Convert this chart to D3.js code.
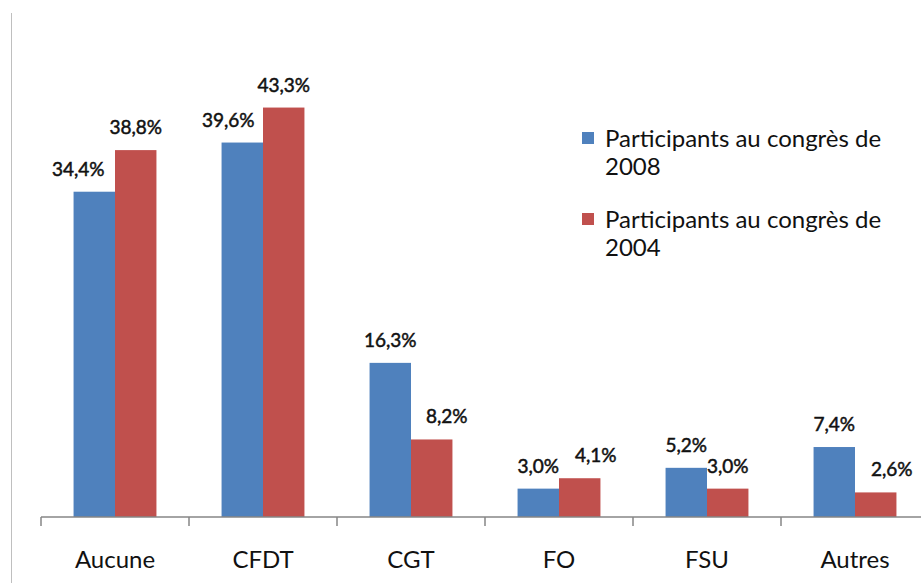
<!DOCTYPE html>
<html>
<head>
<meta charset="utf-8">
<script src="https://cdn.jsdelivr.net/npm/d3@7"></script>
<style>
  body { margin: 0; background: #fff; }
  svg { display: block; font-family: Lato, "Open Sans", sans-serif; }
</style>
</head>
<body>
<svg id="chart" width="921" height="583"></svg>
<script>
// data
const categories = ['Aucune', 'CFDT', 'CGT', 'FO', 'FSU', 'Autres'];
const seriesNames = ['Participants au congrès de 2008', 'Participants au congrès de 2004'];
const values2008 = [34.4, 39.6, 16.3, 3.0, 5.2, 7.4];
const values2004 = [38.8, 43.3, 8.2, 4.1, 3.0, 2.6];

// label nudges so labels don't collide (as in the original)
const labelDx = [
  [-16, -14, 0, 0, 0, 0],
  [0, 0, 15, 16, 0, 16]
];

const colors = ['#4F81BD', '#C0504D'];
const series = [values2008, values2004];

const svg = d3.select('#chart');
const width = 921, height = 583;
const baseY = 517;

const x0 = d3.scaleBand().domain(categories).range([41, 929]).paddingInner(0.44).paddingOuter(0.22);
const x1 = d3.scaleBand().domain([0, 1]).range([0, x0.bandwidth()]);
const y = d3.scaleLinear().domain([0, 50]).range([baseY, 44.2]);

// left frame line
svg.append('line')
  .attr('x1', 11.5).attr('x2', 11.5).attr('y1', 13).attr('y2', height)
  .attr('stroke', '#bfbfbf').attr('stroke-width', 1);

// bars
const groups = svg.append('g').selectAll('g')
  .data(categories)
  .join('g')
  .attr('transform', d => `translate(${x0(d)},0)`);

groups.selectAll('rect')
  .data((d, i) => series.map((s, k) => ({ k, i, v: s[i] })))
  .join('rect')
  .attr('x', d => x1(d.k))
  .attr('y', d => y(d.v))
  .attr('width', x1.bandwidth())
  .attr('height', d => baseY - y(d.v))
  .attr('fill', d => colors[d.k]);

groups.selectAll('text')
  .data((d, i) => series.map((s, k) => ({ k, i, v: s[i] })))
  .join('text')
  .attr('x', d => x1(d.k) + x1.bandwidth() / 2 + labelDx[d.k][d.i])
  .attr('y', d => y(d.v) - 16)
  .attr('text-anchor', 'middle')
  .attr('font-size', 19)
  .attr('fill', '#111')
  .attr('stroke', '#111')
  .attr('stroke-width', 0.5)
  .text(d => d3.format('.1f')(d.v).replace('.', ',') + '%');

// x axis
const axis = svg.append('g').attr('transform', `translate(0,${baseY})`);
axis.append('line')
  .attr('x1', 41).attr('x2', width).attr('stroke', '#868686').attr('stroke-width', 1.5);
axis.selectAll('.tick')
  .data(categories)
  .join('line')
  .attr('x1', d => x0(d) - x0.step() * x0.paddingInner() / 2)
  .attr('x2', d => x0(d) - x0.step() * x0.paddingInner() / 2)
  .attr('y1', 0).attr('y2', 9)
  .attr('stroke', '#868686').attr('stroke-width', 1.5);
axis.selectAll('text')
  .data(categories)
  .join('text')
  .attr('x', d => x0(d) + x0.bandwidth() / 2)
  .attr('y', 51)
  .attr('text-anchor', 'middle')
  .attr('font-size', 24)
  .attr('fill', '#111')
  .text(d => d);

// legend
const legend = svg.append('g').attr('transform', 'translate(582,132)');
const entry = legend.selectAll('g')
  .data(seriesNames)
  .join('g')
  .attr('transform', (d, i) => `translate(0,${i * 81})`);
entry.append('rect')
  .attr('width', 12).attr('height', 12)
  .attr('fill', (d, i) => colors[i]);
const lt = entry.append('text')
  .attr('font-size', 24)
  .attr('fill', '#111');
lt.append('tspan').attr('x', 23).attr('y', 15).text(d => d.replace(/ \d{4}$/, ''));
lt.append('tspan').attr('x', 23).attr('y', 43).text(d => d.match(/\d{4}$/)[0]);
</script>
</body>
</html>
